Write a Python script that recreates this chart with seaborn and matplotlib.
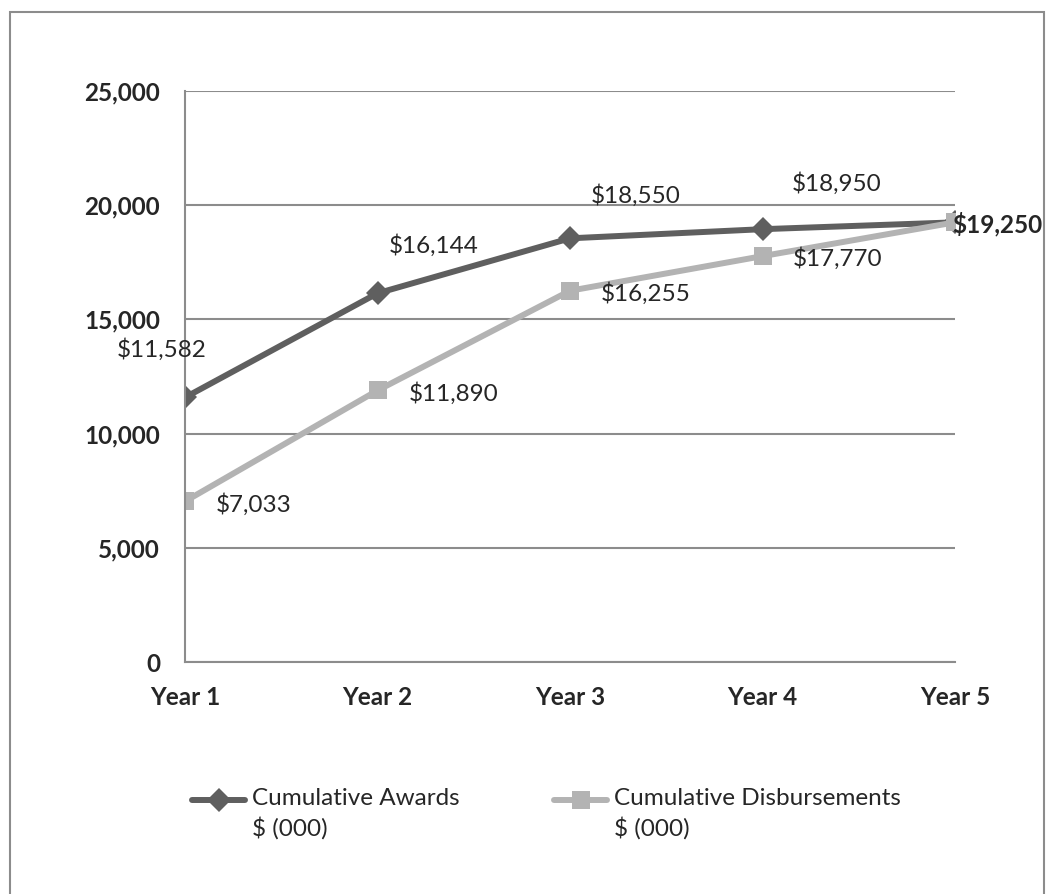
import pandas as pd
import matplotlib
matplotlib.use("Agg")
import matplotlib.pyplot as plt
import matplotlib.patches as patches
import seaborn as sns

years = ["Year 1", "Year 2", "Year 3", "Year 4", "Year 5"]
awards = [11582, 16144, 18550, 18950, 19250]
disbursements = [7033, 11890, 16255, 17770, 19250]
series_names = ["Cumulative Awards\n$ (000)", "Cumulative Disbursements\n$ (000)"]

sns.set_style("white")
plt.rcParams["font.family"] = ["Lato", "DejaVu Sans"]
FS = 17.5
MS = [12, 13.5]

df = pd.DataFrame({
    "year": years * 2,
    "value": awards + disbursements,
    "series": [series_names[0]] * 5 + [series_names[1]] * 5,
})
df["x"] = list(range(5)) * 2

fig = plt.figure(figsize=(10.46, 8.94), dpi=100)
ax = fig.add_axes([185 / 1046, 1 - 662 / 894, 770 / 1046, 571 / 894])

sns.lineplot(data=df, x="x", y="value", hue="series", style="series",
             palette=["#5f5f5f", "#b3b3b3"], markers=["D", "s"], dashes=False,
             linewidth=4.3, markeredgewidth=0, ax=ax)
# marker sizes per series
for line, ms in zip(ax.lines[:2], MS):
    line.set_markersize(ms)

ax.set_xlim(0, 4)
ax.set_ylim(0, 25000)
ax.set_xticks(range(5))
ax.set_xticklabels(years, fontsize=FS, fontweight="bold")
ax.set_yticks(range(0, 25001, 5000))
ax.set_yticklabels([f"{v:,}" for v in range(0, 25001, 5000)], fontsize=FS, fontweight="bold")
ax.set_xlabel("")
ax.set_ylabel("")
ax.yaxis.grid(True, color="#8c8c8c", linewidth=1.5)
ax.set_axisbelow(True)
for s in ["top", "right"]:
    ax.spines[s].set_visible(False)
for s in ["left", "bottom"]:
    ax.spines[s].set_color("#8c8c8c")
    ax.spines[s].set_linewidth(1.5)
ax.tick_params(axis="both", direction="out", length=5, width=1.5, color="#8c8c8c")
ax.tick_params(axis="y", pad=13)
ax.tick_params(axis="x", pad=12)

# data labels (offsets in pixels)
award_off = [(-23, 48), (56, 48), (66, 43), (74, 46)]
for i, (dx, dy) in enumerate(award_off):
    ax.annotate(f"${awards[i]:,}", (i, awards[i]), xytext=(dx, dy), textcoords="offset pixels",
                ha="center", va="center", fontsize=FS)
disb_off = [(31, -3), (31, -3), (31, -3), (30, -2)]
for i, (dx, dy) in enumerate(disb_off):
    ax.annotate(f"${disbursements[i]:,}", (i, disbursements[i]), xytext=(dx, dy),
                textcoords="offset pixels", ha="left", va="center", fontsize=FS)
ax.annotate(f"${awards[4]:,}", (4, awards[4]), xytext=(-3, -2), textcoords="offset pixels",
            ha="left", va="center", fontsize=FS, fontweight="bold", annotation_clip=False)

# legend below, handle aligned with first text line
handles, labels = ax.get_legend_handles_labels()
ax.get_legend().remove()
leg = fig.legend(handles, ["\n" + l for l in labels], loc="center left",
                 bbox_to_anchor=(192 / 1046, 1 - 800 / 894),
                 ncol=2, frameon=False, fontsize=FS, handlelength=2.2, handletextpad=0.25,
                 columnspacing=3.9, borderaxespad=0, borderpad=0)
for h, ms in zip(leg.legend_handles, MS):
    h.set_markersize(ms)
for t in leg.get_texts():
    t.set_linespacing(1.4)

fig.patches.append(patches.Rectangle((10 / 1046, -0.01), 1034 / 1046, 1 - 12 / 894 + 0.01,
                                     transform=fig.transFigure, fill=False,
                                     edgecolor="#8c8c8c", linewidth=1.5))

fig.savefig("out.png", dpi=100)
